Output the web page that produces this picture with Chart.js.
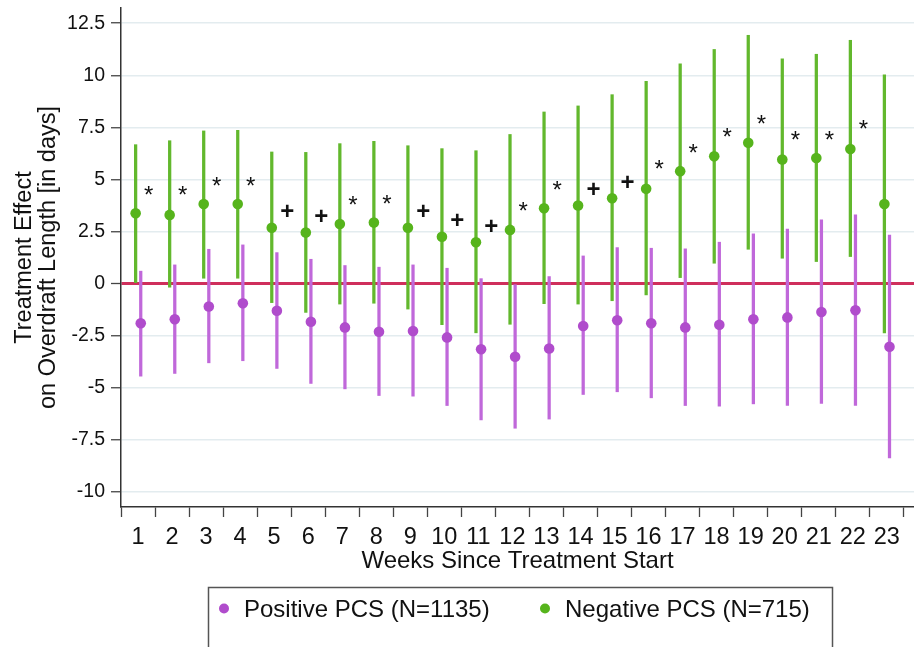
<!DOCTYPE html>
<html><head><meta charset="utf-8">
<script src="https://cdn.jsdelivr.net/npm/chart.js@4.4.1/dist/chart.umd.min.js"></script>
<style>html,body{margin:0;padding:0;background:#fff;}#wrap{width:914px;height:647px;position:relative;}</style>
</head><body><div id="wrap"><canvas id="c" width="914" height="647"></canvas></div>
<script>
// ---- data ----
const weeks = [1,2,3,4,5,6,7,8,9,10,11,12,13,14,15,16,17,18,19,20,21,22,23];
const yTicks = [-10,-7.5,-5,-2.5,0,2.5,5,7.5,10,12.5];

const posLabel = 'Positive PCS (N=1135)';
const posEst  = [-1.90,-1.71,-1.10,-0.94,-1.30,-1.83,-2.10,-2.31,-2.27,-2.58,-3.15,-3.51,-3.11,-2.03,-1.76,-1.90,-2.10,-1.97,-1.71,-1.62,-1.36,-1.28,-3.03];
const posLow  = [-4.44,-4.31,-3.80,-3.70,-4.07,-4.79,-5.05,-5.37,-5.40,-5.85,-6.54,-6.94,-6.50,-5.32,-5.19,-5.48,-5.85,-5.88,-5.77,-5.85,-5.75,-5.85,-8.37];
const posHigh = [0.60,0.90,1.65,1.86,1.49,1.17,0.87,0.79,0.90,0.74,0.24,-0.05,0.34,1.33,1.73,1.70,1.67,1.99,2.39,2.62,3.06,3.30,2.33];

const negLabel = 'Negative PCS (N=715)';
const negEst  = [3.38,3.30,3.82,3.82,2.68,2.45,2.86,2.93,2.68,2.25,1.99,2.58,3.62,3.75,4.10,4.55,5.40,6.11,6.76,5.96,6.03,6.46,3.82];
const negLow  = [0.05,-0.17,0.26,0.26,-0.91,-1.38,-0.98,-0.94,-1.22,-1.97,-2.36,-1.95,-0.96,-0.98,-0.82,-0.54,0.29,0.98,1.65,1.22,1.06,1.30,-2.36];
const negHigh = [6.67,6.86,7.33,7.36,6.32,6.30,6.72,6.83,6.62,6.48,6.38,7.16,8.24,8.53,9.07,9.71,10.55,11.24,11.92,10.79,11.01,11.68,10.02];

const sigMarks = ['*','*','*','*','+','+','*','*','+','+','+','*','*','+','+','*','*','*','*','*','*','*',''];
const sigY     = [4.47,4.47,4.90,4.90,3.50,3.25,4.00,4.06,3.50,3.06,2.81,3.70,4.73,4.59,4.90,5.71,6.51,7.25,7.87,7.13,7.13,7.62,null];

const xTitle = 'Weeks Since Treatment Start';
const yTitle = ['Treatment Effect', 'on Overdraft Length [in days]'];

// ---- styling ----
const FONT = '"Liberation Sans", Arial, sans-serif';
const PINK_DOT = '#b04ccc', PINK_LINE = '#c068da';
const GREEN_DOT = '#56b41c', GREEN_LINE = '#62b82d';
const ZERO = '#cf2f5c', GRID = '#e3ecef', AXIS = '#333', TXT = '#111';
const OFF_NEG = -0.07, OFF_POS = 0.08;

const bars = (lo, hi, off) => weeks.map((w, i) => ({x: w + off, y: [lo[i], hi[i]]}));
const pts  = (est, off) => weeks.map((w, i) => ({x: w + off, y: est[i]}));

const sigPlugin = {
  id: 'sig',
  afterDatasetsDraw(chart) {
    const {ctx, scales: {x, y}} = chart;
    ctx.save();
    ctx.fillStyle = TXT;
    ctx.textAlign = 'left';
    ctx.textBaseline = 'alphabetic';
    weeks.forEach((w, i) => {
      const m = sigMarks[i];
      if (!m) return;
      ctx.font = (m === '+' ? 'bold ' : '') + '24px ' + FONT;
      const px = x.getPixelForValue(w) + 6;
      const py = y.getPixelForValue(sigY[i]);
      const mt = ctx.measureText(m);
      ctx.fillText(m, px, py + (mt.actualBoundingBoxAscent - mt.actualBoundingBoxDescent) / 2);
    });
    ctx.restore();
  }
};

const legendPlugin = {
  id: 'boxLegend',
  afterDraw(chart) {
    const ctx = chart.ctx;
    ctx.save();
    ctx.strokeStyle = '#555';
    ctx.lineWidth = 1.5;
    ctx.strokeRect(208.5, 587.5, 624, 90);
    const items = chart.data.datasets.filter(d => d.inLegend);
    const spots = [{dot: 224, text: 244}, {dot: 545, text: 565}];
    const yc = 608.5;
    ctx.font = '24px ' + FONT;
    const cap = ctx.measureText('P').actualBoundingBoxAscent;
    items.forEach((d, k) => {
      ctx.fillStyle = d.backgroundColor;
      ctx.beginPath();
      ctx.arc(spots[k].dot, yc, 5, 0, Math.PI * 2);
      ctx.fill();
      ctx.fillStyle = TXT;
      ctx.textAlign = 'left';
      ctx.textBaseline = 'alphabetic';
      ctx.fillText(d.label, spots[k].text, yc + cap / 2);
    });
    ctx.restore();
  }
};

new Chart(document.getElementById('c'), {
  type: 'scatter',
  data: {
    datasets: [
      {type: 'bar', label: 'pos CI', data: bars(posLow, posHigh, OFF_POS), backgroundColor: PINK_LINE,
       barThickness: 2.6, grouped: false, borderWidth: 0, order: 2},
      {type: 'bar', label: 'neg CI', data: bars(negLow, negHigh, OFF_NEG), backgroundColor: GREEN_LINE,
       barThickness: 2.6, grouped: false, borderWidth: 0, order: 2},
      {type: 'scatter', label: posLabel, inLegend: true, data: pts(posEst, OFF_POS), backgroundColor: PINK_DOT,
       pointRadius: 5.3, pointBorderWidth: 0, borderWidth: 0, order: 1},
      {type: 'scatter', label: negLabel, inLegend: true, data: pts(negEst, OFF_NEG), backgroundColor: GREEN_DOT,
       pointRadius: 5.3, pointBorderWidth: 0, borderWidth: 0, order: 1}
    ]
  },
  options: {
    responsive: false,
    animation: false,
    devicePixelRatio: 1,
    layout: {autoPadding: false, padding: {left: 0, right: 0, top: 8, bottom: 70}},
    plugins: {legend: {display: false}, tooltip: {enabled: false}},
    scales: {
      x: {
        type: 'linear', min: 0.5, max: 23.8, offset: false,
        afterBuildTicks: s => { s.ticks = weeks.map(v => ({value: v})); },
        afterFit: s => { s.height = 70; s.paddingLeft = 0; s.paddingRight = 0; },
        grid: {drawOnChartArea: false, drawTicks: true, tickLength: 10, tickColor: '#444', tickWidth: 1.3},
        border: {display: true, color: AXIS, width: 1.5},
        ticks: {font: {family: FONT, size: 23.5}, color: TXT, padding: 6, maxRotation: 0, autoSkip: false,
                callback: v => String(v)},
        title: {display: true, text: xTitle, font: {family: FONT, size: 24, lineHeight: 1.0}, color: TXT,
                padding: {top: 0, bottom: 4}}
      },
      y: {
        type: 'linear', min: -10.72, max: 13.23,
        afterBuildTicks: s => { s.ticks = yTicks.map(v => ({value: v})); },
        afterFit: s => { s.width = 121; s.paddingTop = 0; s.paddingBottom = 0; },
        grid: {
          color: c => (c.tick && c.tick.value === 0) ? ZERO : GRID,
          lineWidth: c => (c.tick && c.tick.value === 0) ? 3 : 1.5,
          tickColor: '#444', tickLength: 10, tickWidth: 1.3
        },
        border: {display: true, color: AXIS, width: 1.5},
        ticks: {font: {family: FONT, size: 19.5}, color: TXT, padding: 6, callback: v => String(v)},
        title: {display: true, text: yTitle, font: {family: FONT, size: 23.5, lineHeight: 1.0}, color: TXT,
                padding: {top: 13, bottom: 0}}
      }
    }
  },
  plugins: [sigPlugin, legendPlugin]
});
</script></body></html>
